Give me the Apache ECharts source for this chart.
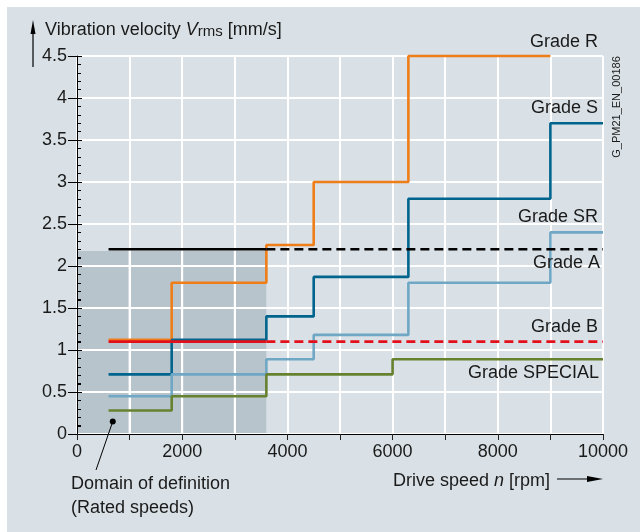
<!DOCTYPE html>
<html>
<head>
<meta charset="utf-8">
<script src="https://cdn.jsdelivr.net/npm/echarts@6/dist/echarts.min.js"></script>
<style>
  html, body { margin: 0; padding: 0; background: #fff; }
  #main { width: 640px; height: 532px; }
</style>
</head>
<body>
<div id="main"></div>
<script>
// axes
var speedMin = 0, speedMax = 10000, speedStep = 1000;
var vMin = 0, vMax = 4.5, vStep = 0.5, vMinorStep = 0.1;

// grade curves (speed breakpoints / vibration velocity), step at the end
var speedR = [600, 1800, 3600, 4500, 6300, 9000];
var valR = [1.12, 1.8, 2.25, 3.0, 4.5, 4.5];
var speedS = [600, 1800, 3600, 4500, 6300, 9000, 10000];
var valS = [0.71, 1.12, 1.4, 1.87, 2.8, 3.7, 3.7];
var speedSR = [600, 1800, 3600, 4500, 6300, 9000, 10000];
var valSR = [0.45, 0.71, 0.89, 1.18, 1.8, 2.4, 2.4];
var speedSP = [600, 1800, 3600, 6000, 10000];
var valSP = [0.28, 0.45, 0.71, 0.89, 0.89];
// grade A / B : solid inside domain, dashed outside
var speedFlat = [600, 3600, 10000];
var valA = [2.2, 2.2, 2.2];
var valB = [1.1, 1.1, 1.1];
// domain of definition (rated speeds)
var domainSpeed = [0, 3600];
var domainTop = 2.18;

var gradeLabels = ['Grade R', 'Grade S', 'Grade SR', 'Grade A', 'Grade B', 'Grade SPECIAL'];

var FONT = 'Liberation Sans, Arial, sans-serif';
var TXT = '#1a1a1a';

function pairs(xs, ys) {
    var out = [];
    for (var i = 0; i < xs.length; i++) {
        out.push([xs[i], ys[i]]);
    }
    return out;
}

function stepLine(name, xs, ys, color) {
    return {
        name: name,
        type: 'line',
        step: 'end',
        data: pairs(xs, ys),
        symbol: 'none',
        clip: false,
        lineStyle: { color: color, width: 2.6 },
        zlevel: 2,
        z: 2
    };
}

function flatLine(name, from, to, val, color, dashed) {
    return {
        name: name,
        type: 'line',
        data: [[speedFlat[from], val[from]], [speedFlat[to], val[to]]],
        symbol: 'none',
        clip: false,
        lineStyle: { color: color, width: 2.6, type: dashed ? [9, 5] : 'solid' },
        zlevel: 2,
        z: 3
    };
}

// shaded domain; grid lines and inner ticks are redrawn on top of it
function renderDomain(params, api) {
    var x0 = api.value(0), x1 = api.value(1), top = api.value(2);
    var bl = api.coord([x0, vMin]);
    var tr = api.coord([x1, top]);
    var kids = [{
        type: 'rect',
        shape: { x: bl[0] + 0.5, y: tr[1], width: tr[0] - bl[0] - 0.5, height: bl[1] - tr[1] - 0.5 },
        style: { fill: '#b8c4cc' }
    }];
    var s, v, p, k;
    for (s = x0 + speedStep; s < x1; s += speedStep) {
        p = api.coord([s, vMin]);
        kids.push({ type: 'line', shape: { x1: p[0], y1: bl[1], x2: p[0], y2: tr[1] }, style: { stroke: '#fff', lineWidth: 2 } });
    }
    for (v = vMin + vStep; v < top; v += vStep) {
        p = api.coord([x0, v]);
        kids.push({ type: 'line', shape: { x1: bl[0], y1: p[1], x2: tr[0], y2: p[1] }, style: { stroke: '#fff', lineWidth: 2 } });
    }
    for (k = 0; k * vMinorStep <= top; k++) {
        p = api.coord([x0, k * vMinorStep]);
        var y = Math.round(p[1]) + 0.5;
        var len = (k % 5 === 0) ? 5 : 4;
        kids.push({ type: 'line', shape: { x1: bl[0], y1: y, x2: bl[0] + len, y2: y }, style: { stroke: '#000', lineWidth: 1 } });
    }
    return { type: 'group', children: kids };
}

var chart = echarts.init(document.getElementById('main'), null, { renderer: 'canvas' });

var option = {
    animation: false,
    backgroundColor: '#d9e1e6',
    grid: { left: 77, right: 37, top: 56, bottom: 98, outerBoundsMode: 'none' },
    xAxis: {
        type: 'value',
        zlevel: 1,
        min: speedMin, max: speedMax, interval: speedStep,
        axisLine: { show: true, onZero: false, lineStyle: { color: '#000', width: 1 } },
        axisTick: { show: true, length: 6, lineStyle: { color: '#222' } },
        axisLabel: {
            margin: 9, color: TXT, fontSize: 18, fontFamily: FONT,
            formatter: function (v) { return v % 2000 === 0 ? String(v) : ''; }
        },
        splitLine: { show: true, lineStyle: { color: '#fff', width: 2 } }
    },
    yAxis: [{
        type: 'value',
        zlevel: 1,
        position: 'left',
        min: vMin, max: vMax, interval: vStep,
        axisLine: { show: true, onZero: false, lineStyle: { color: '#000', width: 1 } },
        axisTick: { show: true, length: 9, lineStyle: { color: '#000' } },
        axisLabel: { margin: 10, color: TXT, fontSize: 18, fontFamily: FONT },
        splitLine: { show: true, lineStyle: { color: '#fff', width: 2 } }
    }, {
        // inner ticks + minor ticks
        type: 'value',
        zlevel: 1,
        position: 'left',
        min: vMin, max: vMax, interval: vStep,
        axisLine: { show: false },
        axisTick: { show: true, inside: true, length: 5, lineStyle: { color: '#000' } },
        minorTick: { show: true, splitNumber: 5, length: 4, lineStyle: { color: '#000' } },
        axisLabel: { show: false },
        splitLine: { show: false }
    }],
    series: [
        {
            name: 'domain',
            type: 'custom',
            renderItem: renderDomain,
            encode: { x: [0, 1], y: 2 },
            data: [[domainSpeed[0], domainSpeed[1], domainTop]],
            zlevel: 0,
            z: 0
        },
        stepLine('Grade R', speedR, valR, '#ef7d18'),
        stepLine('Grade S', speedS, valS, '#00648d'),
        stepLine('Grade SR', speedSR, valSR, '#6fa7c4'),
        stepLine('Grade SPECIAL', speedSP, valSP, '#66822f'),
        flatLine('Grade B', 0, 1, valB, '#e3101b', false),
        flatLine('Grade B dashed', 1, 2, valB, '#e3101b', true),
        flatLine('Grade A', 0, 1, valA, '#000', false),
        flatLine('Grade A dashed', 1, 2, valA, '#000', true)
    ]
};
chart.setOption(option);

// texts and annotations
function label(text, x, y, align, size) {
    return {
        type: 'text', zlevel: 3,
        style: {
            text: text, x: x, y: y, fill: TXT,
            font: (size || 18) + 'px ' + FONT,
            align: align || 'right', verticalAlign: 'middle'
        }
    };
}

var dot = chart.convertToPixel({ gridIndex: 0 }, [680, 0.15]);

chart.setOption({
    graphic: [
        // white margin top / left
        { type: 'rect', zlevel: 3, shape: { x: 0, y: 0, width: 640, height: 7 }, style: { fill: '#fff' } },
        { type: 'rect', zlevel: 3, shape: { x: 0, y: 0, width: 7, height: 532 }, style: { fill: '#fff' } },
        // y axis title with arrow
        {
            type: 'text', zlevel: 3,
            style: {
                x: 45, y: 30, verticalAlign: 'middle', fill: TXT,
                text: '{n|Vibration velocity }{v|V}{s|rms}{n| [mm/s]}',
                rich: {
                    n: { fontSize: 18, fontFamily: FONT, fill: TXT },
                    v: { fontSize: 18, fontFamily: FONT, fontStyle: 'italic', fill: TXT },
                    s: { fontSize: 15, fontFamily: FONT, fill: TXT, verticalAlign: 'bottom', padding: [4, 0, 0, 0] }
                }
            }
        },
        { type: 'line', zlevel: 3, shape: { x1: 33, y1: 67, x2: 33, y2: 30 }, style: { stroke: '#000', lineWidth: 1.2 } },
        { type: 'polygon', zlevel: 3, shape: { points: [[30.5, 34], [35.5, 34], [33, 20]] }, style: { fill: '#000' } },
        // x axis title with arrow
        {
            type: 'text', zlevel: 3,
            style: {
                x: 550, y: 481, align: 'right', verticalAlign: 'middle', fill: TXT,
                text: '{n|Drive speed }{v|n}{n| [rpm]}',
                rich: {
                    n: { fontSize: 18, fontFamily: FONT, fill: TXT },
                    v: { fontSize: 18, fontFamily: FONT, fontStyle: 'italic', fill: TXT }
                }
            }
        },
        { type: 'line', zlevel: 3, shape: { x1: 557, y1: 479, x2: 592, y2: 479 }, style: { stroke: '#000', lineWidth: 1.2 } },
        { type: 'polygon', zlevel: 3, shape: { points: [[587, 476], [587, 482], [603, 479]] }, style: { fill: '#000' } },
        // grade labels
        label(gradeLabels[0], 598, 42),
        label(gradeLabels[1], 598, 108),
        label(gradeLabels[2], 598, 217),
        label(gradeLabels[3], 600, 263),
        label(gradeLabels[4], 598, 327),
        label(gradeLabels[5], 599, 373),
        // drawing id, rotated
        {
            type: 'text', zlevel: 3, x: 617, y: 107, rotation: Math.PI / 2,
            style: { text: 'G_PM21_EN_00186', x: 0, y: 0, align: 'center', verticalAlign: 'middle', fill: TXT, font: '11px ' + FONT }
        },
        // domain of definition callout
        { type: 'circle', zlevel: 3, shape: { cx: dot[0], cy: dot[1], r: 3 }, style: { fill: '#000' } },
        { type: 'line', zlevel: 3, shape: { x1: dot[0], y1: dot[1], x2: 96, y2: 470 }, style: { stroke: '#000', lineWidth: 1 } },
        label('Domain of definition', 71, 484, 'left'),
        label('(Rated speeds)', 71, 508, 'left')
    ]
});
</script>
</body>
</html>
